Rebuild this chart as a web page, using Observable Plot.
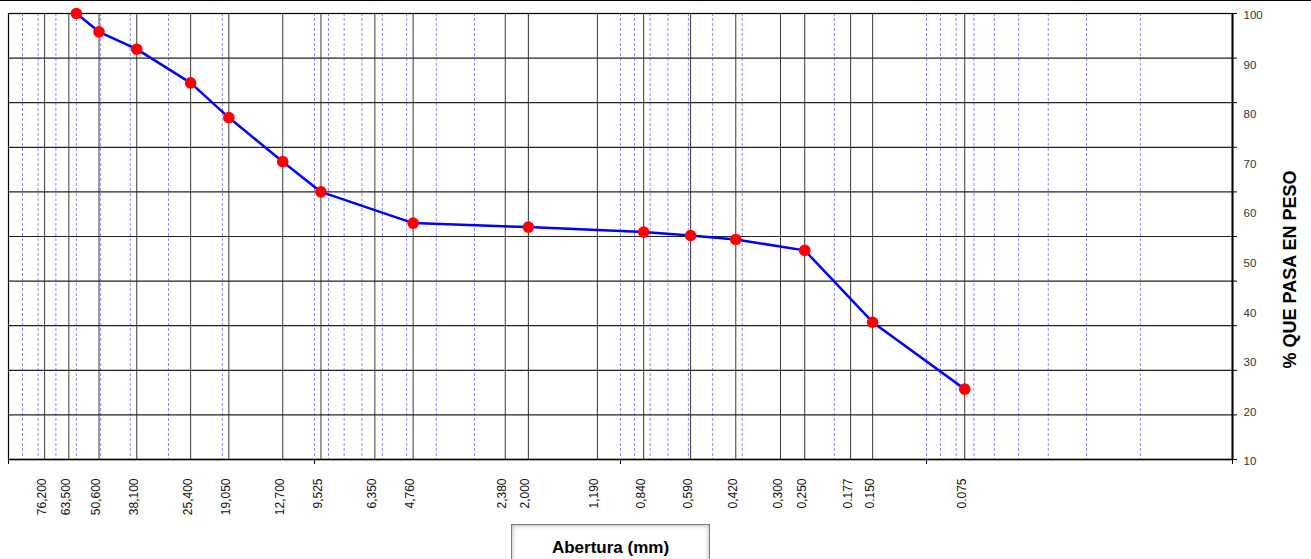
<!DOCTYPE html>
<html>
<head>
<meta charset="utf-8">
<script src="https://cdn.jsdelivr.net/npm/d3@7"></script>
<script src="https://cdn.jsdelivr.net/npm/@observablehq/plot@0.6"></script>
<style>
  html, body { margin: 0; padding: 0; background: #fff; }
  #wrap { position: relative; width: 1311px; height: 559px; overflow: hidden; font-family: "Liberation Sans", Arial, sans-serif; }
  #topline { position: absolute; left: 0; top: 0; width: 1311px; height: 1px; background: #000; z-index: 2; }
  #chart { position: absolute; left: 0; top: 0; }
  #xtitle {
    position: absolute; left: 511px; top: 524px; width: 199px; height: 44px;
    border: 1px solid #7a7a7a; box-sizing: border-box;
    background: #fff; box-shadow: inset 0 0 5px rgba(0,0,0,0.35);
    text-align: center; font-weight: bold; font-size: 17px; line-height: 17px;
    padding-top: 14px; color: #000;
  }
</style>
</head>
<body>
<div id="wrap">
  <div id="chart"></div>
  <div id="topline"></div>
  <div id="xtitle">Abertura (mm)</div>
</div>
<script>
// Sieve openings (mm) with black grid lines and their printed labels
const sieves = [76.2, 63.5, 50.6, 38.1, 25.4, 19.05, 12.7, 9.525, 6.35, 4.76, 2.38, 2.0, 1.19, 0.84, 0.59, 0.42, 0.3, 0.25, 0.177, 0.15, 0.075];
const sieveLabels = ["76,200","63,500","50,600","38,100","25,400","19,050","12,700","9,525","6,350","4,760","2,380","2,000","1,190","0,840","0,590","0,420","0,300","0,250","0.177","0.150","0.075"];

// Curve points: aperture (mm) and % passing
const apertura = [60, 50.6, 38.1, 25.4, 19.05, 12.7, 9.525, 4.76, 2.0, 0.84, 0.59, 0.42, 0.25, 0.15, 0.075];
const pasa = [100, 96.3, 92.8, 86.0, 79.0, 70.1, 64.0, 57.7, 56.9, 55.9, 55.2, 54.4, 52.2, 37.7, 24.2];

// Log minor grid (blue dashed)
const minorX = [90,80,70,60,50,40,30,20,10, 9,8,7,6,5,4,3,2,1, 0.9,0.8,0.7,0.6,0.5,0.4,0.3,0.2,0.1, 0.09,0.08,0.07,0.06,0.05,0.04,0.03,0.02];
const decadeX = [100, 10, 1, 0.1, 0.01];

// Horizontal grid lines / right tick marks, and right tick labels
const gridY = [10, 19, 28, 37, 46, 55, 64, 73, 82, 91, 100];
const yLabels = [10, 20, 30, 40, 50, 60, 70, 80, 90, 100];

const yTitle = ["% QUE PASA EN PESO"];

const data = apertura.map((a, i) => ({a, p: pasa[i]}));

const chart = Plot.plot({
  width: 1311,
  height: 520,
  marginLeft: 8,
  marginRight: 79,
  marginTop: 13,
  marginBottom: 61,
  style: {fontFamily: "'Liberation Sans', Arial, sans-serif", background: "transparent", overflow: "visible"},
  x: {type: "log", domain: [100, 0.01]},
  y: {domain: [10, 100]},
  marks: [
    Plot.ruleX(minorX, {stroke: "#0000ff", strokeOpacity: 0.45, strokeDasharray: "3,2", strokeWidth: 1}),
    Plot.ruleX(sieves, {stroke: "#3a3a3a", strokeWidth: 1}),
    Plot.ruleY(gridY, {stroke: "#222", strokeWidth: 1.2}),
    Plot.frame({stroke: "#000", strokeWidth: 1.2}),
    Plot.ruleX([0.01], {stroke: "#000", strokeWidth: 2}),
    Plot.ruleY([10], {stroke: "#000", strokeWidth: 1.5}),
    Plot.axisY(gridY, {anchor: "right", tickSize: 4, tickFormat: () => "", label: null, stroke: "#000"}),
    Plot.axisY(yLabels, {anchor: "right", tickSize: 0, tickPadding: 11, fontSize: 11.5, label: null, dy: 2, fill: "#333"}),
    Plot.axisX(decadeX, {anchor: "bottom", tickSize: 5, tickFormat: () => "", label: null, stroke: "#000"}),
    Plot.text(sieves, {x: d => d, text: sieveLabels, frameAnchor: "bottom", rotate: -90, textAnchor: "end", dy: 19, dx: 1, fontSize: 12, fill: "#111"}),
    Plot.line(data, {x: "a", y: "p", stroke: "#0000ff", strokeWidth: 2.5}),
    Plot.dot(data, {x: "a", y: "p", r: 5.8, fill: "#ff0000", stroke: "none"}),
    Plot.text(yTitle, {frameAnchor: "right", textAnchor: "middle", rotate: -90, dx: 58, dy: 33, fontSize: 18, fontWeight: "bold", fill: "#000"})
  ]
});
document.getElementById("chart").appendChild(chart);
</script>
</body>
</html>
